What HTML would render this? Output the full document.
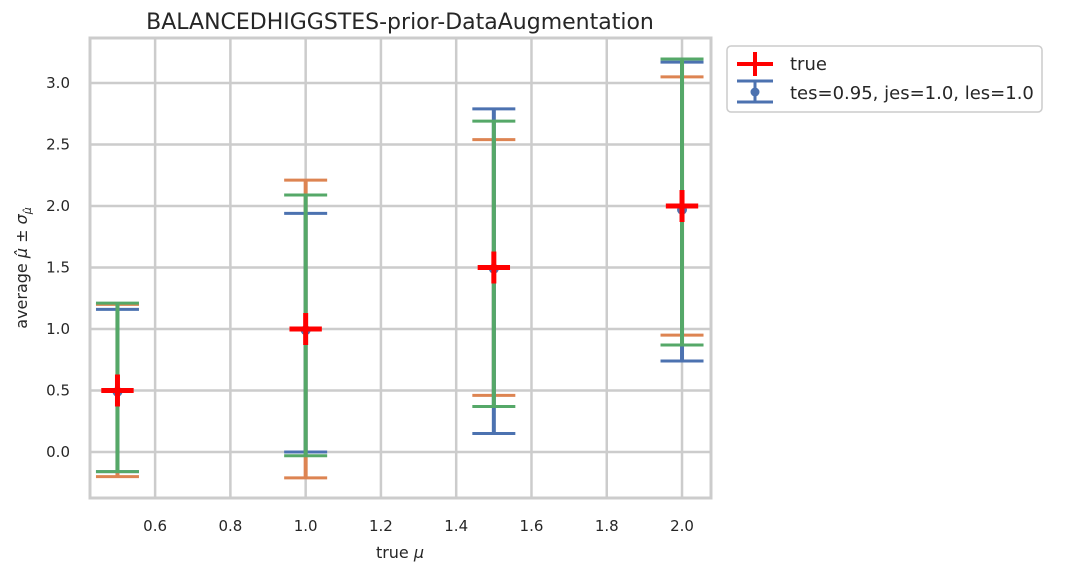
<!DOCTYPE html>
<html><head><meta charset="utf-8"><style>
body{margin:0;background:#fff;font-family:"Liberation Sans","DejaVu Sans",sans-serif}
svg text{font-family:"DejaVu Sans","Liberation Sans",sans-serif}
</style></head><body>
<svg id="chart" width="1079" height="575" xmlns="http://www.w3.org/2000/svg">
<g id="grid"></g><g id="marks"></g><g id="axes"></g>
</svg>
<script>
const categories=[0.5,1.0,1.5,2.0];
const blueLow=[-0.16,0.0,0.15,0.74];
const blueHigh=[1.16,1.94,2.79,3.17];
const blueMean=[0.49,0.99,1.49,1.97];
const orangeLow=[-0.20,-0.21,0.46,0.95];
const orangeHigh=[1.20,2.21,2.54,3.05];
const greenLow=[-0.16,-0.03,0.37,0.87];
const greenHigh=[1.21,2.09,2.69,3.195];
const trueVals=[0.5,1.0,1.5,2.0];
const trueYErr=0.13, trueXErr=0.043;
const xTicks=[0.6,0.8,1.0,1.2,1.4,1.6,1.8,2.0];
const yTicks=[0.0,0.5,1.0,1.5,2.0,2.5,3.0];
const L=90,R=711,T=38,B=498,xmin=0.427,xmax=2.077,ymin=-0.374,ymax=3.366;
const sx=v=>L+(v-xmin)/(xmax-xmin)*(R-L);
const sy=v=>B-(v-ymin)/(ymax-ymin)*(B-T);
const NS="http://www.w3.org/2000/svg";
function mk(par,tag,attrs){const e=document.createElementNS(NS,tag);for(const k in attrs)e.setAttribute(k,attrs[k]);document.getElementById(par).appendChild(e);return e;}
xTicks.forEach(t=>{const g=mk('grid','line',{x1:sx(t),x2:sx(t),y1:T,y2:B,stroke:'#cccccc','stroke-width':2.5});


const tx=mk('axes','text',{x:sx(t),y:B+33,'text-anchor':'middle','font-size':15,fill:'#262626'});tx.textContent=t.toFixed(1);

});
yTicks.forEach(t=>{const g=mk('grid','line',{x1:L,x2:R,y1:sy(t),y2:sy(t),stroke:'#cccccc','stroke-width':2.5});


const tx=mk('axes','text',{x:L-20,y:sy(t)+5,'text-anchor':'end','font-size':15,fill:'#262626'});tx.textContent=t.toFixed(1);

});
const fr=mk('axes','rect',{x:L,y:T,width:R-L,height:B-T,fill:'none',stroke:'#cccccc','stroke-width':3});


const cap=21.5;
function errbar(lo,hi,color,name){categories.forEach((c,i)=>{const x=sx(c);
const v=mk('marks','line',{x1:x,x2:x,y1:sy(lo[i]),y2:sy(hi[i]),stroke:color,'stroke-width':4});


[lo[i],hi[i]].forEach(y=>{const cp=mk('marks','line',{x1:x-cap,x2:x+cap,y1:sy(y),y2:sy(y),stroke:color,'stroke-width':3});

});});}
errbar(orangeLow,orangeHigh,'#dd8452','orange');
errbar(blueLow,blueHigh,'#4c72b0','blue');
errbar(greenLow,greenHigh,'#55a868','green');
categories.forEach((c,i)=>{const p=mk('marks','circle',{cx:sx(c),cy:sy(blueMean[i]),r:5,fill:'#4c72b0'});

});
trueVals.forEach(v=>{const x=sx(v),y=sy(v);
const a=mk('marks','line',{x1:sx(v-trueXErr),x2:sx(v+trueXErr),y1:y,y2:y,stroke:'#ff0000','stroke-width':5});


const b=mk('marks','line',{x1:x,x2:x,y1:sy(v-trueYErr),y2:sy(v+trueYErr),stroke:'#ff0000','stroke-width':5});

});
</script>
<svg style="position:absolute;left:0;top:0" width="1079" height="575" xmlns="http://www.w3.org/2000/svg">
<text x="400" y="29" text-anchor="middle" font-size="22" fill="#262626">BALANCEDHIGGSTES-prior-DataAugmentation</text>
<text x="400" y="558" text-anchor="middle" font-size="16" fill="#262626">true <tspan font-style="italic">μ</tspan></text>
<text transform="translate(27,268) rotate(-90)" text-anchor="middle" font-size="16" fill="#262626">average <tspan font-style="italic">μ̂</tspan> ± <tspan font-style="italic">σ</tspan><tspan font-size="11" dy="4" font-style="italic">μ̂</tspan></text>
<g>
<rect x="727" y="46" width="315" height="66" rx="4" fill="#fff" stroke="#cccccc" stroke-width="1.5"/>
<line x1="737" x2="773" y1="64" y2="64" stroke="#ff0000" stroke-width="4"/>
<line x1="755" x2="755" y1="52" y2="76" stroke="#ff0000" stroke-width="4"/>
<text x="790" y="70" font-size="18" fill="#262626">true</text>
<line x1="737" x2="773" y1="81" y2="81" stroke="#4c72b0" stroke-width="3"/>
<line x1="737" x2="773" y1="102" y2="102" stroke="#4c72b0" stroke-width="3"/>
<line x1="755" x2="755" y1="81" y2="102" stroke="#4c72b0" stroke-width="3"/>
<circle cx="755" cy="92" r="4.5" fill="#4c72b0"/>
<text x="790" y="99" font-size="18" fill="#262626">tes=0.95, jes=1.0, les=1.0</text>
</g>
</svg>
</body></html>
